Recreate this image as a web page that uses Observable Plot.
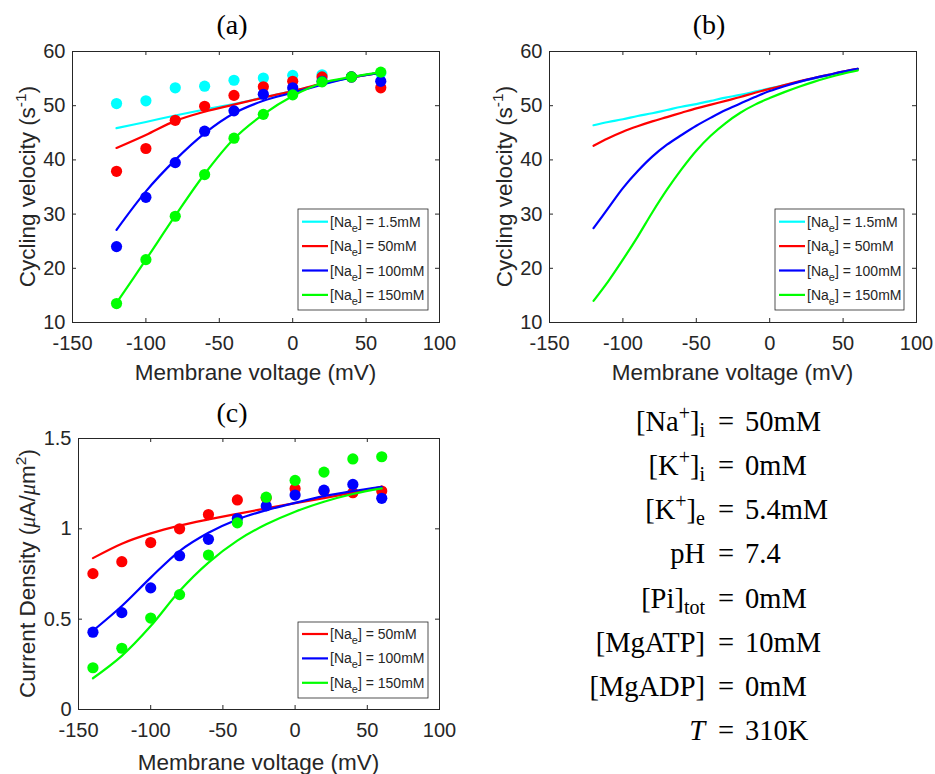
<!DOCTYPE html>
<html><head><meta charset="utf-8">
<script src="https://cdn.jsdelivr.net/npm/d3@7"></script>
<script src="https://cdn.jsdelivr.net/npm/@observablehq/plot@0.6"></script>
<style>
body{margin:0;background:#fff;}
#root{position:relative;width:935px;height:774px;background:#fff;overflow:hidden}
#root > svg{position:absolute}
</style></head><body><div id="root"></div>
<script>
// ---------------- DATA ----------------
const naLabels = ["1.5mM", "50mM", "100mM", "150mM"];
const colors4 = ["#00ffff", "#ff0000", "#0000ff", "#00ff00"];

// Panel (a): measured points and fitted curves
const voltA = [-120, -100, -80, -60, -40, -20, 0, 20, 40, 60];
const dotsA_1_5 = [50.4, 50.9, 53.3, 53.6, 54.7, 55.1, 55.6, 55.7, 55.3, 56.0];
const dotsA_50  = [37.9, 42.1, 47.3, 49.9, 51.9, 53.5, 54.5, 55.3, 55.3, 53.3];
const dotsA_100 = [24.0, 33.1, 39.5, 45.3, 49.05, 52.1, 53.3, 54.5, 55.3, 54.5];
const dotsA_150 = [13.5, 21.6, 29.6, 37.3, 44.0, 48.4, 52.0, 54.4, 55.3, 56.2];
const fitA_1_5 = [45.85, 47.0, 48.2, 49.3, 50.3, 51.5, 52.7, 54.0, 55.2, 56.1];
const fitA_50  = [42.2, 44.6, 47.2, 48.9, 50.2, 51.5, 52.7, 54.1, 55.2, 56.1];
const fitA_100 = [27.1, 34.2, 40.0, 44.9, 48.6, 50.9, 52.4, 53.9, 55.2, 56.1];
const fitA_150 = [13.6, 21.6, 29.7, 37.4, 43.9, 48.4, 51.8, 54.2, 55.3, 56.2];

// Panel (b): model predictions
const voltB = [-120, -110, -100, -90, -80, -70, -60, -50, -40, -30, -20, -10, 0, 10, 20, 30, 40, 50, 60];
const predB_1_5 = [46.4, 47.0, 47.5, 48.1, 48.6, 49.2, 49.8, 50.3, 50.9, 51.5, 52.0, 52.6, 53.2, 53.8, 54.4, 55.0, 55.6, 56.2, 56.8];
const predB_50  = [42.6, 44.0, 45.2, 46.2, 47.1, 47.9, 48.7, 49.5, 50.2, 50.9, 51.6, 52.4, 53.1, 53.8, 54.5, 55.1, 55.7, 56.3, 56.8];
const predB_100 = [27.4, 31.1, 34.8, 37.9, 40.6, 42.8, 44.6, 46.3, 47.8, 49.2, 50.4, 51.6, 52.7, 53.6, 54.4, 55.1, 55.7, 56.3, 56.8];
const predB_150 = [14.0, 17.6, 21.6, 25.8, 30.3, 34.5, 38.3, 41.7, 44.5, 46.8, 48.7, 50.2, 51.4, 52.5, 53.5, 54.4, 55.2, 55.9, 56.5];

// Panel (c): current density
const voltC = [-140, -120, -100, -80, -60, -40, -20, 0, 20, 40, 60];
const naLabelsC = ["50mM", "100mM", "150mM"];
const colors3 = ["#ff0000", "#0000ff", "#00ff00"];
const dotsC_50  = [0.752, 0.818, 0.924, 1.000, 1.079, 1.160, 1.170, 1.222, 1.210, 1.200, 1.209];
const dotsC_100 = [0.428, 0.536, 0.673, 0.851, 0.942, 1.057, 1.127, 1.187, 1.214, 1.246, 1.169];
const dotsC_150 = [0.231, 0.339, 0.506, 0.636, 0.855, 1.033, 1.175, 1.268, 1.314, 1.387, 1.399];
const fitC_50  = [0.838, 0.918, 0.975, 1.018, 1.052, 1.083, 1.113, 1.142, 1.170, 1.200, 1.233];
const fitC_100 = [0.436, 0.573, 0.730, 0.877, 0.978, 1.052, 1.103, 1.144, 1.181, 1.209, 1.233];
const fitC_150 = [0.173, 0.297, 0.462, 0.656, 0.813, 0.935, 1.025, 1.095, 1.150, 1.193, 1.224];

// Ticks
const xTicks = [-150, -100, -50, 0, 50, 100];
const yTicksAB = [10, 20, 30, 40, 50, 60];
const yTicksC = [0, 0.5, 1, 1.5];

// Parameter text block
const paramNames = [
  [["[Na", ""], ["+", "sup"], ["]", ""], ["i", "sub"]],
  [["[K", ""], ["+", "sup"], ["]", ""], ["i", "sub"]],
  [["[K", ""], ["+", "sup"], ["]", ""], ["e", "sub"]],
  [["pH", ""]],
  [["[Pi]", ""], ["tot", "sub"]],
  [["[MgATP]", ""]],
  [["[MgADP]", ""]],
  [["T", "it"]]
];
const paramValues = ["50mM", "0mM", "5.4mM", "7.4", "0mM", "10mM", "0mM", "310K"];

// ---------------- RENDER ----------------
const INK = "#262626";
const SANS = "'Liberation Sans', Arial, Helvetica, sans-serif";
const SERIF = "'Liberation Serif', 'Times New Roman', serif";
const root = document.getElementById("root");

function buildPanel(cfg) {
  const iw = cfg.width - cfg.ml - cfg.mr, ih = cfg.height - cfg.mt - cfg.mb;
  const marks = [
    Plot.axisX({ticks: xTicks, tickSize: 0, tickPadding: 13, tickFormat: d => String(d), label: null}),
    Plot.axisY({ticks: cfg.yTicks, tickSize: 0, tickPadding: 7, tickFormat: d => String(d), label: null}),
    Plot.tickX(xTicks, {x: d => d, insetTop: ih - 4, stroke: INK, strokeWidth: 1}),
    Plot.tickX(xTicks, {x: d => d, insetBottom: ih - 4, stroke: INK, strokeWidth: 1}),
    Plot.tickY(cfg.yTicks, {y: d => d, insetRight: iw - 4, stroke: INK, strokeWidth: 1}),
    Plot.tickY(cfg.yTicks, {y: d => d, insetLeft: iw - 4, stroke: INK, strokeWidth: 1})
  ];
  for (const s of cfg.series) {
    if (s.dots) {
      marks.push(Plot.dot(s.dotX.map((x, i) => ({x, y: s.dots[i]})), {x: "x", y: "y", r: 5.6, fill: s.color, stroke: "none"}));
    }
    marks.push(Plot.line(s.lineX.map((x, i) => ({x, y: s.line[i]})), {x: "x", y: "y", stroke: s.color, strokeWidth: 2.2, curve: "catmull-rom"}));
  }
  marks.push(Plot.frame({stroke: INK, strokeWidth: 1}));
  const svg = Plot.plot({
    width: cfg.width, height: cfg.height,
    marginLeft: cfg.ml, marginRight: cfg.mr, marginTop: cfg.mt, marginBottom: cfg.mb,
    x: {domain: [-150, 100]},
    y: {domain: cfg.yDomain},
    style: {background: "white", color: INK, fontFamily: SANS, fontSize: "20px", overflow: "visible"},
    marks
  });
  svg.style.left = cfg.left + "px";
  svg.style.top = cfg.top + "px";
  const g = d3.select(svg);

  // title
  g.append("text").attr("x", cfg.titleX).attr("y", cfg.titleY)
    .attr("text-anchor", "middle").attr("font-family", SERIF).attr("font-size", 28)
    .attr("fill", "#000").text(cfg.title);

  // x label
  g.append("text").attr("x", cfg.ml + iw / 2).attr("y", cfg.height - cfg.mb + cfg.xlabDy)
    .attr("text-anchor", "middle").attr("font-family", SANS).attr("font-size", 22.5)
    .attr("fill", INK).text("Membrane voltage (mV)");

  // y label
  const yl = g.append("text")
    .attr("transform", `translate(${cfg.ylabX},${cfg.mt + ih / 2}) rotate(-90)`)
    .attr("text-anchor", "middle").attr("font-family", SANS).attr("font-size", 22.5).attr("fill", INK);
  cfg.ylabel(yl);

  // legend
  const L = cfg.legend;
  g.append("rect").attr("x", L.x).attr("y", L.y).attr("width", L.w).attr("height", L.h)
    .attr("fill", "white").attr("stroke", INK).attr("stroke-width", 0.8);
  L.labels.forEach((lab, i) => {
    const cy = L.y + L.first + i * L.step;
    g.append("line").attr("x1", L.x + 4).attr("x2", L.x + 30).attr("y1", cy).attr("y2", cy)
      .attr("stroke", L.colors[i]).attr("stroke-width", 2.2);
    const t = g.append("text").attr("x", L.x + 32).attr("y", cy + 5)
      .attr("text-anchor", "start")
      .attr("font-family", SANS).attr("font-size", 14).attr("fill", INK);
    t.append("tspan").text("[Na");
    t.append("tspan").attr("dy", 5).attr("font-size", 11).text("e");
    t.append("tspan").attr("dy", -5).text("] = " + lab);
  });
  root.appendChild(svg);
}

const seriesA = [dotsA_1_5, dotsA_50, dotsA_100, dotsA_150].map((d, i) => ({
  color: colors4[i], dotX: voltA, dots: d, lineX: voltA, line: [fitA_1_5, fitA_50, fitA_100, fitA_150][i]
}));
const seriesB = [predB_1_5, predB_50, predB_100, predB_150].map((p, i) => ({
  color: colors4[i], lineX: voltB, line: p
}));
const seriesC = [dotsC_50, dotsC_100, dotsC_150].map((d, i) => ({
  color: colors3[i], dotX: voltC, dots: d, lineX: voltC, line: [fitC_50, fitC_100, fitC_150][i]
}));

function velLabel(t) {
  t.append("tspan").text("Cycling velocity (s");
  t.append("tspan").attr("dy", -9).attr("font-size", 15.5).text("-1");
  t.append("tspan").attr("dy", 9).text(")");
}

buildPanel({
  left: 0, top: 0, width: 470, height: 390, ml: 72, mr: 31, mt: 51, mb: 68,
  yDomain: [10, 60], yTicks: yTicksAB, series: seriesA,
  title: "(a)", titleX: 232, titleY: 34, xlabDy: 58, ylabX: 35, ylabel: velLabel,
  legend: {x: 298, y: 209, w: 130, h: 101, first: 12.7, step: 24.4, labels: naLabels, colors: colors4}
});
buildPanel({
  left: 470, top: 0, width: 465, height: 390, ml: 79, mr: 19, mt: 51, mb: 68,
  yDomain: [10, 60], yTicks: yTicksAB, series: seriesB,
  title: "(b)", titleX: 239, titleY: 34, xlabDy: 58, ylabX: 42, ylabel: velLabel,
  legend: {x: 305, y: 209, w: 129, h: 101, first: 12.7, step: 24.4, labels: naLabels, colors: colors4}
});
buildPanel({
  left: 0, top: 390, width: 470, height: 384, ml: 78, mr: 31, mt: 48, mb: 65,
  yDomain: [0, 1.5], yTicks: yTicksC, series: seriesC,
  title: "(c)", titleX: 232, titleY: 32, xlabDy: 61, ylabX: 35,
  ylabel: t => {
    t.append("tspan").text("Current Density (");
    t.append("tspan").attr("font-family", SERIF).attr("font-style", "italic").text("\u03bc");
    t.append("tspan").text("A/");
    t.append("tspan").attr("font-family", SERIF).attr("font-style", "italic").text("\u03bc");
    t.append("tspan").text("m");
    t.append("tspan").attr("dy", -9).attr("font-size", 15.5).text("2");
    t.append("tspan").attr("dy", 9).text(")");
  },
  legend: {x: 298, y: 232, w: 130, h: 76, first: 12, step: 24.4, labels: naLabelsC, colors: colors3}
});

// Parameter text block
const tb = d3.create("svg").attr("width", 465).attr("height", 384)
  .style("left", "470px").style("top", "390px");
const baselines = [41, 85, 129, 173.3, 217.5, 261.7, 305.8, 350];
paramNames.forEach((parts, i) => {
  const y = baselines[i];
  const t = tb.append("text").attr("x", 235).attr("y", y).attr("text-anchor", "end")
    .attr("font-family", SERIF).attr("font-size", 28.5).attr("fill", "#000");
  let shift = 0;
  parts.forEach(([s, kind]) => {
    const sp = t.append("tspan").text(s);
    let target = 0;
    if (kind === "sup") { target = -11; sp.attr("font-size", 20); }
    else if (kind === "sub") { target = 6; sp.attr("font-size", 20); }
    else if (kind === "it") { sp.attr("font-style", "italic"); }
    if (target !== shift) { sp.attr("dy", target - shift); shift = target; }
  });
  tb.append("text").attr("x", 256).attr("y", y).attr("text-anchor", "middle")
    .attr("font-family", SERIF).attr("font-size", 28.5).attr("fill", "#000").text("=");
  tb.append("text").attr("x", 275).attr("y", y)
    .attr("font-family", SERIF).attr("font-size", 28.5).attr("fill", "#000").text(paramValues[i]);
});
root.appendChild(tb.node());
</script></body></html>
